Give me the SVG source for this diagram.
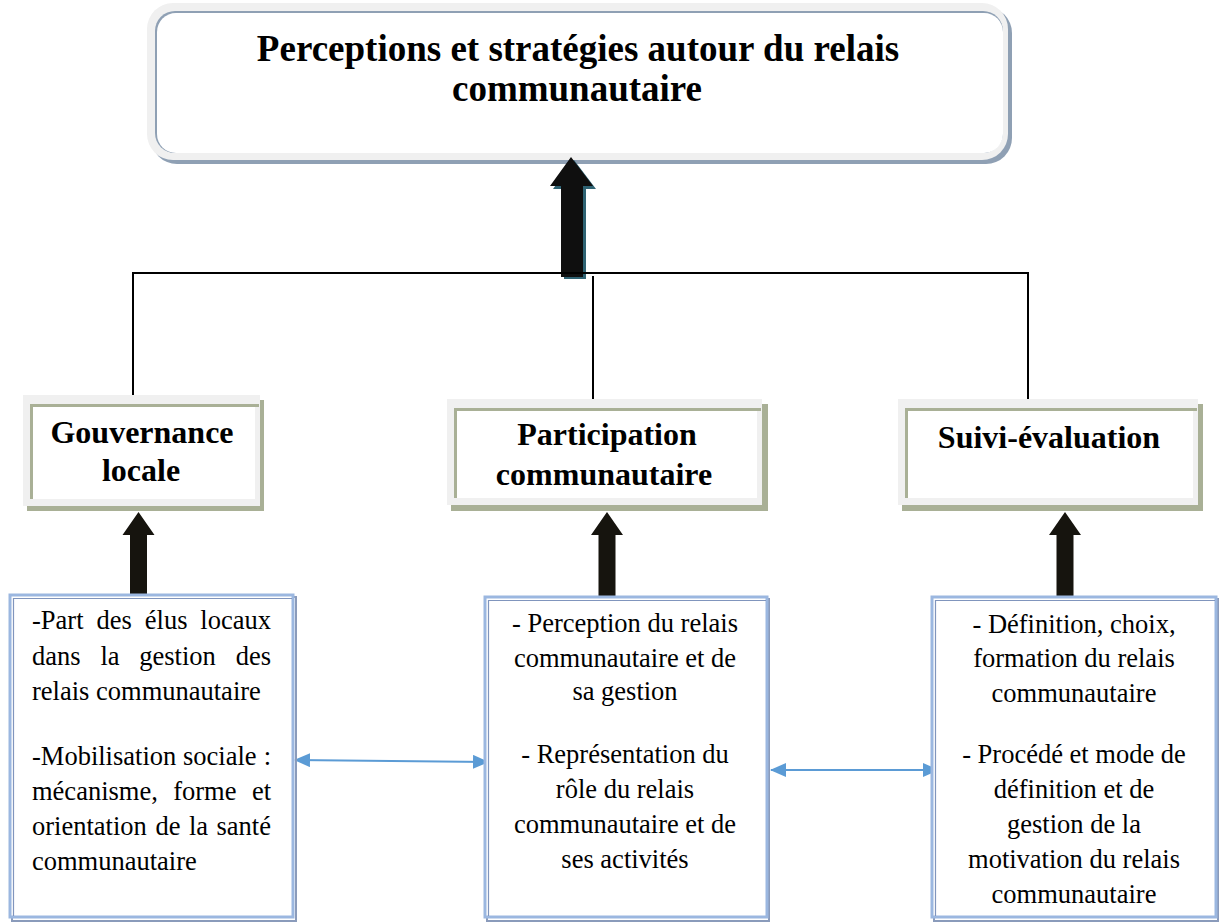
<svg xmlns="http://www.w3.org/2000/svg" width="1224" height="922" viewBox="0 0 1224 922">
<defs>
<style>
.t{font-family:"Liberation Serif","Times New Roman",serif;fill:#000}
.b{font-weight:bold}
.ttl{font-size:37px}
.lbl{font-size:32px}
.body{font-size:26.5px}
.olive{fill:#a9b096}
.lg{fill:#f0f0f0}
.conn{stroke:#000;stroke-width:2;fill:none}
.blue{stroke:#5b9bd5;stroke-width:2;fill:none}
.bx-sh{fill:none;stroke:#8a9bbb;stroke-width:2}
.bx{fill:#fff;stroke:#9bb7e0;stroke-width:3}
.bx-in{fill:none;stroke:#8095bd;stroke-width:1.2}
.arr{fill:#16140e}
</style>
<marker id="ah" viewBox="0 0 16 14" refX="15" refY="7" markerWidth="16" markerHeight="14" orient="auto-start-reverse" markerUnits="userSpaceOnUse">
<path d="M0,0 L16,7 L0,14 z" fill="#5b9bd5"/>
</marker>
</defs>
<rect width="1224" height="922" fill="#fff"/>

<g id="title">
<rect x="151" y="7" width="861" height="157" rx="26" fill="#8fa0b4"/>
<rect x="147" y="3" width="861" height="157" rx="26" class="lg"/>
<rect x="155" y="11" width="848" height="142" rx="20" fill="#8fa0b4"/>
<rect x="157" y="13" width="846" height="140" rx="19" fill="#fff"/>
<text class="t b ttl" text-anchor="middle" x="578" y="61">Perceptions et stratégies autour du relais</text>
<text class="t b ttl" text-anchor="middle" x="577" y="101">communautaire</text>
</g>

<g id="connectors">
<polygon points="574,160 596,189 586,189 586,279 564,279 564,189 553,189" fill="#2f6373"/>
<polygon points="571,157 593,186 583,186 583,277 561,277 561,186 550,186" fill="#0f0f0f"/>
<line class="conn" x1="132" y1="273" x2="1029" y2="273"/>
<line class="conn" x1="133" y1="272" x2="133" y2="396"/>
<line class="conn" x1="593" y1="276" x2="593" y2="399"/>
<line class="conn" x1="1028" y1="272" x2="1028" y2="399"/>
<polygon class="arr" points="138.5,512 154.5,535 147,535 147,598 130,598 130,535 122.5,535"/>
<polygon class="arr" points="607,512 623,535 615.5,535 615.5,597 598.5,597 598.5,535 591,535"/>
<polygon class="arr" points="1065,512 1081,535 1073.5,535 1073.5,598 1056.5,598 1056.5,535 1049,535"/>
<line class="blue" x1="295" y1="760" x2="488" y2="762" marker-start="url(#ah)" marker-end="url(#ah)"/>
<line class="blue" x1="771" y1="770" x2="938" y2="770" marker-start="url(#ah)" marker-end="url(#ah)"/>
</g>

<g id="gouvernance">
<rect class="olive" x="27" y="400" width="237" height="111"/>
<rect class="lg" x="23" y="395" width="237" height="111"/>
<rect class="olive" x="30" y="404" width="229" height="3"/>
<rect class="olive" x="30" y="404" width="3" height="95"/>
<rect fill="#fff" x="33" y="407" width="222" height="92"/>
<text class="t b lbl" text-anchor="middle" x="142" y="443">Gouvernance</text>
<text class="t b lbl" text-anchor="middle" x="141" y="481">locale</text>
</g>

<g id="participation">
<rect class="olive" x="451" y="404" width="317" height="107"/>
<rect class="lg" x="447" y="399" width="315" height="106"/>
<rect class="olive" x="454" y="408" width="307" height="3"/>
<rect class="olive" x="454" y="408" width="3" height="90"/>
<rect fill="#fff" x="457" y="411" width="300" height="87"/>
<text class="t b lbl" text-anchor="middle" x="607" y="445">Participation</text>
<text class="t b lbl" text-anchor="middle" x="604" y="485">communautaire</text>
</g>

<g id="suivi">
<rect class="olive" x="902" y="404" width="301" height="107"/>
<rect class="lg" x="898" y="399" width="300" height="106"/>
<rect class="olive" x="905" y="408" width="292" height="3"/>
<rect class="olive" x="905" y="408" width="3" height="90"/>
<rect fill="#fff" x="908" y="411" width="285" height="87"/>
<text class="t b lbl" text-anchor="middle" x="1049" y="448">Suivi-évaluation</text>
</g>

<g id="box-left">
<rect class="bx-sh" x="12" y="597" width="284" height="324"/>
<rect class="bx" x="10" y="595" width="283" height="322"/>
<polyline class="bx-in" points="13.5,916 13.5,598.5 292,598.5"/>
<g class="t body">
<text y="629"><tspan x="32">-Part</tspan><tspan x="96.5">des</tspan><tspan x="144.8">élus</tspan><tspan x="271" text-anchor="end">locaux</tspan></text>
<text y="665"><tspan x="32">dans</tspan><tspan x="100.4">la</tspan><tspan x="139.3">gestion</tspan><tspan x="271" text-anchor="end">des</tspan></text>
<text x="32" y="700">relais communautaire</text>
<text y="765"><tspan x="32">-Mobilisation</tspan><tspan x="183">sociale</tspan><tspan x="271" text-anchor="end">:</tspan></text>
<text y="800"><tspan x="32">mécanisme,</tspan><tspan x="173.2">forme</tspan><tspan x="271" text-anchor="end">et</tspan></text>
<text y="835"><tspan x="32">orientation</tspan><tspan x="155.4">de</tspan><tspan x="188.9">la</tspan><tspan x="271" text-anchor="end">santé</tspan></text>
<text x="32" y="870">communautaire</text>
</g>
</g>

<g id="box-middle">
<rect class="bx-sh" x="487" y="599" width="282" height="322"/>
<rect class="bx" x="485" y="597" width="282" height="320"/>
<polyline class="bx-in" points="488.5,916 488.5,600.5 766,600.5"/>
<g class="t body" text-anchor="middle">
<text x="625" y="632">- Perception du relais</text>
<text x="625" y="667">communautaire et de</text>
<text x="625" y="700">sa gestion</text>
<text x="625" y="763">- Représentation du</text>
<text x="625" y="798">rôle du relais</text>
<text x="625" y="833">communautaire et de</text>
<text x="625" y="868">ses activités</text>
</g>
</g>

<g id="box-right">
<rect class="bx-sh" x="934" y="599" width="284" height="322"/>
<rect class="bx" x="932" y="597" width="284" height="320"/>
<polyline class="bx-in" points="935.5,916 935.5,600.5 1215,600.5"/>
<g class="t body" text-anchor="middle">
<text x="1074" y="633">- Définition, choix,</text>
<text x="1074" y="667">formation du relais</text>
<text x="1074" y="702">communautaire</text>
<text x="1074" y="763">- Procédé et mode de</text>
<text x="1074" y="798">définition et de</text>
<text x="1074" y="833">gestion de la</text>
<text x="1074" y="868">motivation du relais</text>
<text x="1074" y="903">communautaire</text>
</g>
</g>
</svg>
